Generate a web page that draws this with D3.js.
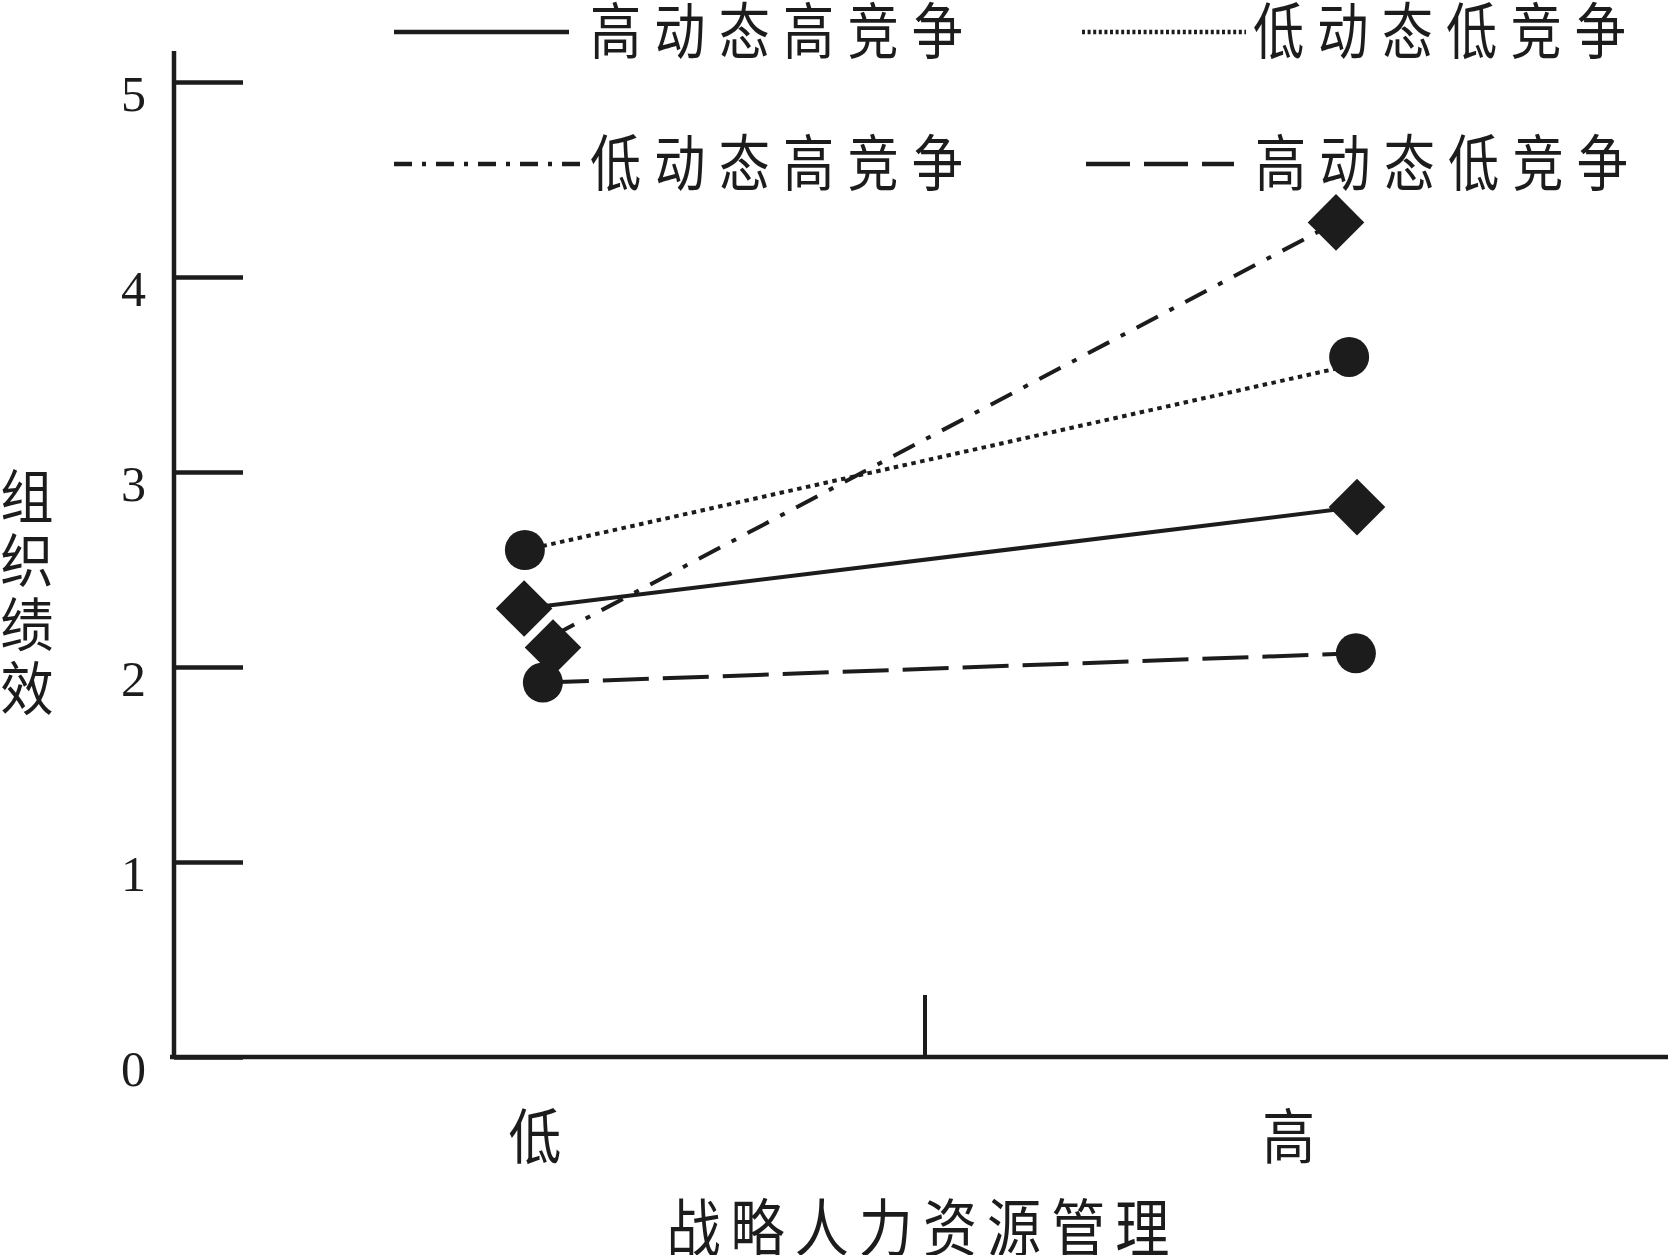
<!DOCTYPE html>
<html>
<head>
<meta charset="utf-8">
<script src="https://cdn.jsdelivr.net/npm/d3@7"></script>
<style>
  html, body { margin: 0; padding: 0; background: #fff; }
  svg { display: block; }
</style>
</head>
<body>
<svg id="chart" width="1668" height="1255"></svg>
<script>
// ---- data ----
const categories = ["低", "高"];
const categoryX = [1, 3.01];          // category positions on the x scale
const midTickX = 2.04;                // the short divider tick on the x axis
const seriesNames = ["高动态高竞争", "低动态低竞争", "低动态高竞争", "高动态低竞争"];
const seriesMarkers = ["diamond", "circle", "diamond", "circle"];
const seriesStyles = ["solid", "dotted", "dashdot", "dashed"];
// marker values
const valuesHH = [2.30, 2.82];        // 高动态高竞争
const valuesLL = [2.60, 3.59];        // 低动态低竞争
const valuesLH = [2.10, 4.28];        // 低动态高竞争
const valuesHL = [1.92, 2.07];        // 高动态低竞争
// marker x positions
const xHH = [0.971, 3.192];
const xLL = [0.973, 3.171];
const xLH = [1.048, 3.136];
const xHL = [1.021, 3.189];
// line end values as drawn in the figure (slightly off the markers)
const lineHH = [2.30, 2.82];
const lineLL = [2.60, 3.545];
const lineLH = [2.16, 4.28];
const lineHL = [1.92, 2.07];
const yTicks = [0, 1, 2, 3, 4, 5];
const yTitle = "组织绩效";
const xTitle = "战略人力资源管理";

const seriesValues = [valuesHH, valuesLL, valuesLH, valuesHL];
const seriesLines = [lineHH, lineLL, lineLH, lineHL];
const seriesX = [xHH, xLL, xLH, xHL];

// ---- layout ----
const ink = "#1c1c1c";
const cjk = "'Noto Sans CJK SC', 'Noto Sans CJK JP', sans-serif";
const svg = d3.select("#chart");
svg.append("rect").attr("width", 1668).attr("height", 1255).attr("fill", "#fff");

const x = d3.scaleLinear().domain([0, 4]).range([160, 1660]);
const y = d3.scaleLinear().domain([0, 5]).range([1057, 82]);
const axisX = 174;

const dash = {
  solid: null,
  dotted: "4.5,4.5",
  dashdot: "24,13,5,13",
  dashed: "46,14"
};
const legendDash = {
  solid: null,
  dotted: "3,2.6",
  dashdot: "18,10,4,10",
  dashed: "44,14"
};

function cjkText(sel, tx, ty, size, squeeze, anchor, length) {
  const t = sel.append("text")
    .attr("transform", `translate(${tx},${ty}) scale(${squeeze},1)`)
    .attr("x", 0).attr("y", 0)
    .attr("text-anchor", anchor)
    .attr("dominant-baseline", "central")
    .attr("font-family", cjk).attr("font-weight", 400)
    .attr("font-size", size).attr("fill", ink);
  if (length) t.attr("textLength", length / squeeze).attr("lengthAdjust", "spacing");
  return t;
}

// y axis
const yAxis = d3.axisLeft(y).tickValues(yTicks).tickFormat(d3.format("d"))
  .tickSize(-69).tickSizeOuter(0).tickPadding(28);
const gy = svg.append("g").attr("transform", `translate(${axisX},0)`).call(yAxis);
gy.select(".domain").remove();
gy.selectAll(".tick line").attr("stroke", ink).attr("stroke-width", 4.5);
gy.selectAll(".tick text")
  .attr("fill", ink)
  .attr("font-family", "'Liberation Serif', 'Times New Roman', serif")
  .attr("font-size", 50)
  .attr("dy", "0.56em");
svg.append("line")
  .attr("x1", axisX).attr("x2", axisX)
  .attr("y1", 51).attr("y2", y(0) + 2)
  .attr("stroke", ink).attr("stroke-width", 4.5);

// x axis
svg.append("line")
  .attr("x1", 170).attr("x2", 1668)
  .attr("y1", y(0)).attr("y2", y(0))
  .attr("stroke", ink).attr("stroke-width", 4.5);
svg.append("line")
  .attr("x1", x(midTickX)).attr("x2", x(midTickX))
  .attr("y1", y(0) - 62).attr("y2", y(0))
  .attr("stroke", ink).attr("stroke-width", 4);

// category labels
categories.forEach((c, i) => {
  cjkText(svg, x(categoryX[i]), 1132, 60, 0.88, "middle").text(c);
});

// x title
cjkText(svg, 918, 1224, 63, 0.86, "middle", 503).text(xTitle);

// y title (vertical, stacked characters)
Array.from(yTitle).forEach((ch, i) => {
  cjkText(svg, 27, 493 + i * 64, 58, 0.92, "middle").text(ch);
});

// series lines
const line = d3.line().x(d => x(d[0])).y(d => y(d[1]));
seriesLines.forEach((vals, s) => {
  const pts = vals.map((v, i) => [seriesX[s][i], v]);
  svg.append("path")
    .attr("d", line(pts))
    .attr("fill", "none")
    .attr("stroke", ink)
    .attr("stroke-width", 4)
    .attr("stroke-dasharray", dash[seriesStyles[s]]);
});

// markers
const diamond = d3.symbol().type(d3.symbolSquare).size(1600);
seriesValues.forEach((vals, s) => {
  vals.forEach((v, i) => {
    const cx = x(seriesX[s][i]), cy = y(v);
    if (seriesMarkers[s] === "circle") {
      svg.append("circle").attr("cx", cx).attr("cy", cy).attr("r", 20).attr("fill", ink);
    } else {
      svg.append("path").attr("d", diamond())
        .attr("transform", `translate(${cx},${cy}) rotate(45)`)
        .attr("fill", ink);
    }
  });
});

// legend
const legendItems = [
  { lx1: 394, lx2: 569, tx: 590, ty: 32 },
  { lx1: 1082, lx2: 1246, tx: 1253, ty: 32 },
  { lx1: 394, lx2: 580, tx: 590, ty: 164 },
  { lx1: 1086, lx2: 1234, tx: 1255, ty: 164 }
];
seriesNames.forEach((name, s) => {
  const it = legendItems[s];
  svg.append("line")
    .attr("x1", it.lx1).attr("x2", it.lx2)
    .attr("y1", it.ty).attr("y2", it.ty)
    .attr("stroke", ink).attr("stroke-width", 4.5)
    .attr("stroke-dasharray", legendDash[seriesStyles[s]]);
  cjkText(svg, it.tx, it.ty - 5, 61, 0.84, "start", 373).text(name);
});
</script>
</body>
</html>
